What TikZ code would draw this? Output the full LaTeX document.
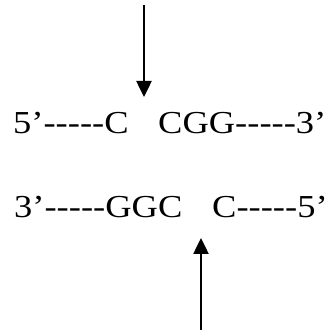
\documentclass[tikz,border=0pt]{standalone}
\usepackage{fontspec}
\setmainfont[FakeStretch=1.14,Ligatures=TeXOff]{Liberation Serif}
\usetikzlibrary{arrows.meta}
\begin{document}
\begin{tikzpicture}[x=1pt,y=1pt,
  seq/.style={anchor=base west,inner sep=0pt,font=\fontsize{32}{38}\selectfont},
  cut/.style={line width=2.5pt,-{Triangle[length=16pt,width=15pt]}}]
\useasboundingbox (0,0) rectangle (331,333);
\node[seq] (l1) at (13,200) {5’-{}-{}-{}-{}-C};
\node[seq] (r1) at (158,200) {CGG-{}-{}-{}-{}-3’};
\node[seq] (l2) at (14,115) {3’-{}-{}-{}-{}-GGC};
\node[seq] (r2) at (212,115) {C-{}-{}-{}-{}-5’};
\coordinate (t0) at (144,328);
\coordinate (t1) at (144,236);
\coordinate (b0) at (201,3);
\coordinate (b1) at (201,95);
\draw[cut] (t0) -- (t1);
\draw[cut] (b0) -- (b1);
\end{tikzpicture}
\end{document}
